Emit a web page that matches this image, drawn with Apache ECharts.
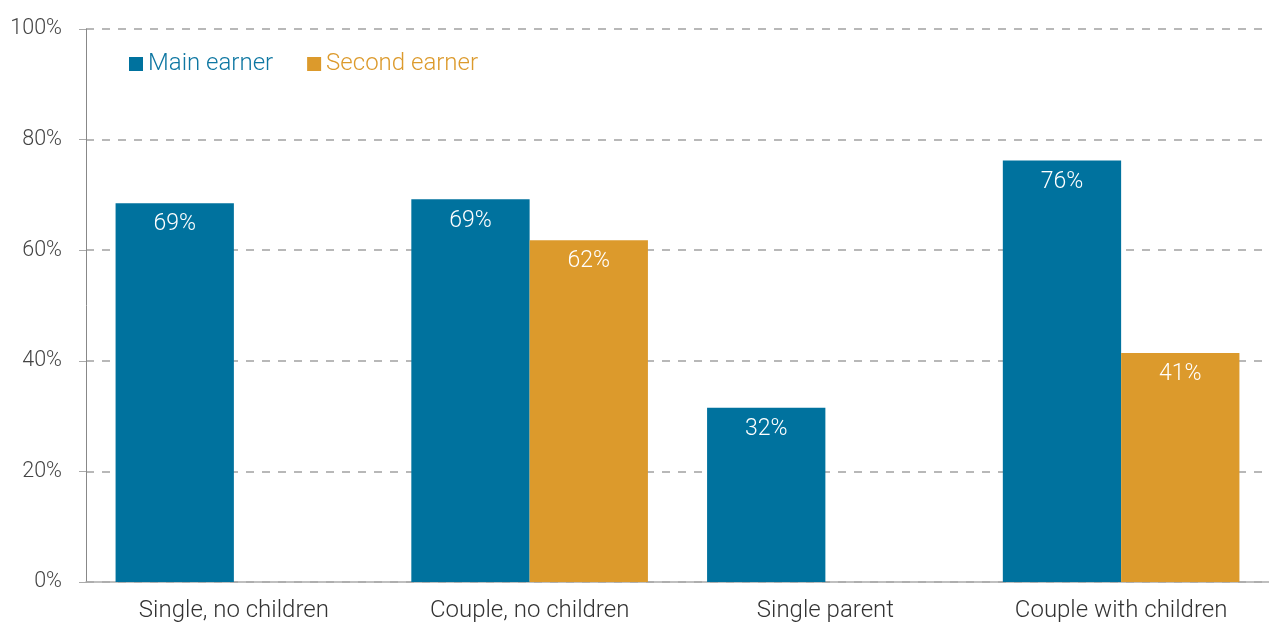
<!DOCTYPE html>
<html>
<head>
<meta charset="utf-8">
<script src="https://cdn.jsdelivr.net/npm/echarts@6/dist/echarts.min.js"></script>
<style>html,body{margin:0;padding:0;background:#fff}#c{width:1269px;height:623px}</style>
</head>
<body>
<div id="c"></div>
<script>
const categories = ['Single, no children', 'Couple, no children', 'Single parent', 'Couple with children'];
const mainEarner = [68.5, 69.2, 31.5, 76.2];
const secondEarner = [null, 61.8, null, 41.4];
const yTicks = ['0%', '20%', '40%', '60%', '80%', '100%'];

const chart = echarts.init(document.getElementById('c'));
const font = 'Roboto, Lato, sans-serif';
const lbl = {
  show: true, position: 'insideTop', distance: 10, color: '#fff', fontSize: 23, fontWeight: 300, fontFamily: font,
  formatter: p => p.value == null ? '' : Math.round(p.value) + '%'
};
chart.setOption({
  animation: false,
  textStyle: { fontFamily: font },
  grid: { left: 86, right: 0, top: 29, bottom: 40 },
  legend: {
    left: 124, top: 47, itemWidth: 14, itemHeight: 14, itemGap: 34, icon: 'rect',
    textStyle: { fontSize: 24, fontWeight: 300, fontFamily: font },
    data: [
      { name: 'Main earner', textStyle: { color: '#0e77a2' } },
      { name: 'Second earner', textStyle: { color: '#dc9a2c' } }
    ]
  },
  xAxis: {
    type: 'category', data: categories,
    axisLine: { lineStyle: { color: '#aaa', width: 1.5 } },
    axisTick: { show: false },
    axisLabel: { fontSize: 24, fontWeight: 300, color: '#333', margin: 17, fontFamily: font }
  },
  yAxis: {
    type: 'value', min: 0, max: 100, interval: 20,
    axisLine: { show: true, lineStyle: { color: '#888', width: 1 } },
    axisTick: { show: true, length: 7, lineStyle: { color: '#aaa' } },
    axisLabel: { fontSize: 21.5, fontWeight: 300, color: '#444', margin: 24, fontFamily: font,
      formatter: v => yTicks[Math.round(v / 20)] },
    splitLine: { lineStyle: { color: '#b8b8b8', type: [8, 8], width: 2 } }
  },
  series: [
    { name: 'Main earner', type: 'bar', data: mainEarner, barGap: '0%', barCategoryGap: '20%',
      itemStyle: { color: '#00729e' }, label: lbl },
    { name: 'Second earner', type: 'bar', data: secondEarner,
      itemStyle: { color: '#dc9a2c' }, label: lbl }
  ]
});
</script>
</body>
</html>
